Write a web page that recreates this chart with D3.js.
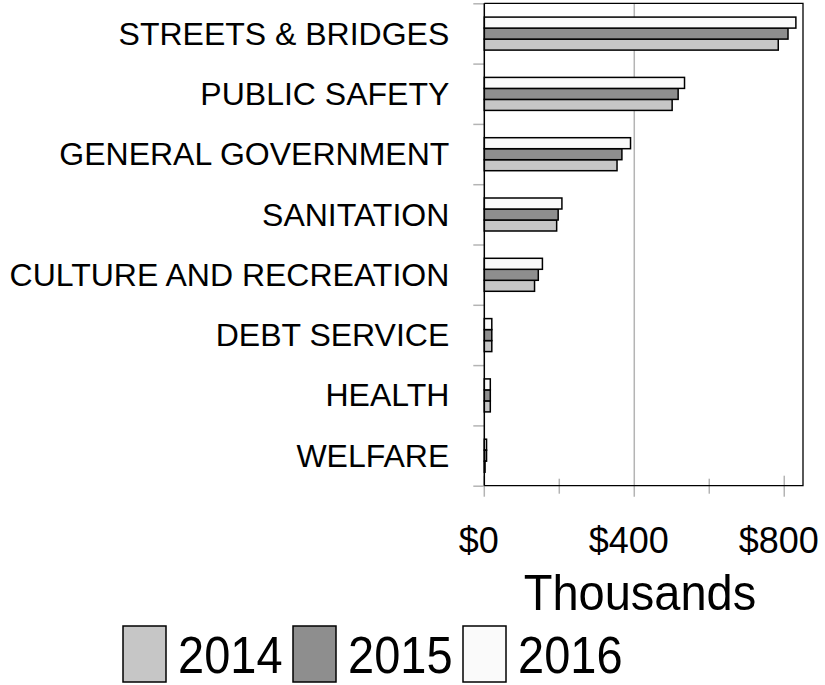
<!DOCTYPE html>
<html>
<head>
<meta charset="utf-8">
<script src="https://cdn.jsdelivr.net/npm/d3@7"></script>
<style>
  body { margin: 0; background: #fff; }
  svg { display: block; font-family: "Liberation Sans", Arial, sans-serif; }
</style>
</head>
<body>
<svg id="chart" width="825" height="685"></svg>
<script>
// categories, top to bottom
let categories = ["STREETS & BRIDGES", "PUBLIC SAFETY", "GENERAL GOVERNMENT", "SANITATION",
    "CULTURE AND RECREATION", "DEBT SERVICE", "HEALTH", "WELFARE"];
let years = ["2014", "2015", "2016"];
// values in thousands of dollars
let values2014 = [784, 501, 354, 193, 134, 20, 16, 2];
let values2015 = [810, 517, 367, 197, 144, 20, 16, 6];
let values2016 = [831, 534, 390, 207, 155, 20, 16, 6];
let xTicks = [0, 400, 800];
let xMinorTicks = [200, 600];
let colors = {"2014": "#c6c6c6", "2015": "#8e8e8e", "2016": "#fafafa"};

let svg = d3.select("#chart"),
    plotLeft = 484.3, plotRight = 803, plotTop = 3.3, plotBottom = 485.7;

let x = d3.scaleLinear().domain([0, 850]).range([plotLeft, plotRight]);

let y = d3.scaleBand()
    .domain(categories)
    .range([plotTop, plotBottom]);

// 2016 on top, 2014 at the bottom of each group
let yInner = d3.scaleBand()
    .domain(["2016", "2015", "2014"])
    .range([13.8, 46.8]);

let yIdx = d3.scaleLinear().domain([0, categories.length]).range([plotTop, plotBottom]);

let data = [];
categories.forEach((c, i) => {
    data.push({cat: c, year: "2014", value: values2014[i]});
    data.push({cat: c, year: "2015", value: values2015[i]});
    data.push({cat: c, year: "2016", value: values2016[i]});
});

// gridline at $400
svg.append("line")
    .attr("x1", x(400)).attr("x2", x(400))
    .attr("y1", plotTop).attr("y2", plotBottom + 11)
    .attr("stroke", "#b4b4b4").attr("stroke-width", 1.5);

// x ticks, crossing the axis line
svg.selectAll(".xtick")
    .data(xTicks.filter(d => d !== 400))
    .enter().append("line")
    .attr("x1", d => x(d)).attr("x2", d => x(d))
    .attr("y1", plotBottom - 10).attr("y2", plotBottom + 11)
    .attr("stroke", "#b4b4b4").attr("stroke-width", 1.5);

svg.selectAll(".xminor")
    .data(xMinorTicks)
    .enter().append("line")
    .attr("x1", d => x(d)).attr("x2", d => x(d))
    .attr("y1", plotBottom - 7).attr("y2", plotBottom + 8)
    .attr("stroke", "#b4b4b4").attr("stroke-width", 1.5);

// y ticks at the band edges
let yTickAxis = d3.axisLeft(yIdx).ticks(categories.length).tickSize(11).tickFormat("");
let gyt = svg.append("g")
    .attr("transform", "translate(" + plotLeft + ",0)")
    .call(yTickAxis);
gyt.select(".domain").remove();
gyt.selectAll("line").attr("stroke", "#b4b4b4").attr("stroke-width", 1.5);

// bars
svg.selectAll("rect.bar")
    .data(data)
    .enter()
    .append("rect")
    .attr("class", "bar")
    .attr("x", x(0))
    .attr("y", d => y(d.cat) + yInner(d.year))
    .attr("width", d => x(d.value) - x(0))
    .attr("height", yInner.bandwidth())
    .attr("fill", d => colors[d.year])
    .attr("stroke", "#000")
    .attr("stroke-width", 1.5);

// plot frame
svg.append("path")
    .attr("d", "M" + plotLeft + "," + plotTop + "H" + plotRight + "V" + plotBottom + "H" + plotLeft)
    .attr("fill", "none").attr("stroke", "#000").attr("stroke-width", 1.3);
svg.append("line")
    .attr("x1", plotLeft).attr("x2", plotLeft).attr("y1", plotTop).attr("y2", plotBottom)
    .attr("stroke", "#000").attr("stroke-width", 1.5);

// category labels
let yAxis = d3.axisLeft(y).tickSize(0).tickPadding(35);
let gy = svg.append("g")
    .attr("transform", "translate(" + plotLeft + ",0)")
    .call(yAxis);
gy.select(".domain").remove();
gy.selectAll("text")
    .attr("font-size", 32)
    .attr("font-family", "Liberation Sans, Arial, sans-serif")
    .attr("fill", "#000")
    .attr("dy", "0.35em");

// x tick labels
let xAxis = d3.axisBottom(x).tickValues(xTicks).tickSize(0).tickPadding(0)
    .tickFormat(d => "$" + d);
let gx = svg.append("g")
    .attr("transform", "translate(-6," + plotBottom + ")")
    .call(xAxis);
gx.select(".domain").remove();
gx.selectAll("text")
    .attr("font-size", 36)
    .attr("font-family", "Liberation Sans, Arial, sans-serif")
    .attr("fill", "#000")
    .attr("y", 67.5)
    .attr("dy", null);

// axis title, glyphs a little taller than wide as in the reference
svg.append("text")
    .attr("transform", "translate(640,610) scale(1,1.07)")
    .attr("text-anchor", "middle")
    .attr("font-size", 47)
    .text("Thousands");

// legend
let legend = svg.selectAll(".legend")
    .data(years)
    .enter().append("g")
    .attr("transform", (d, i) => "translate(" + (123 + i * 170) + ",626)");

legend.append("rect")
    .attr("width", 43).attr("height", 56)
    .attr("fill", d => colors[d])
    .attr("stroke", "#000").attr("stroke-width", 1.5);

legend.append("text")
    .attr("transform", "translate(55,47) scale(1,1.12)")
    .attr("font-size", 47)
    .text(d => d);
</script>
</body>
</html>
